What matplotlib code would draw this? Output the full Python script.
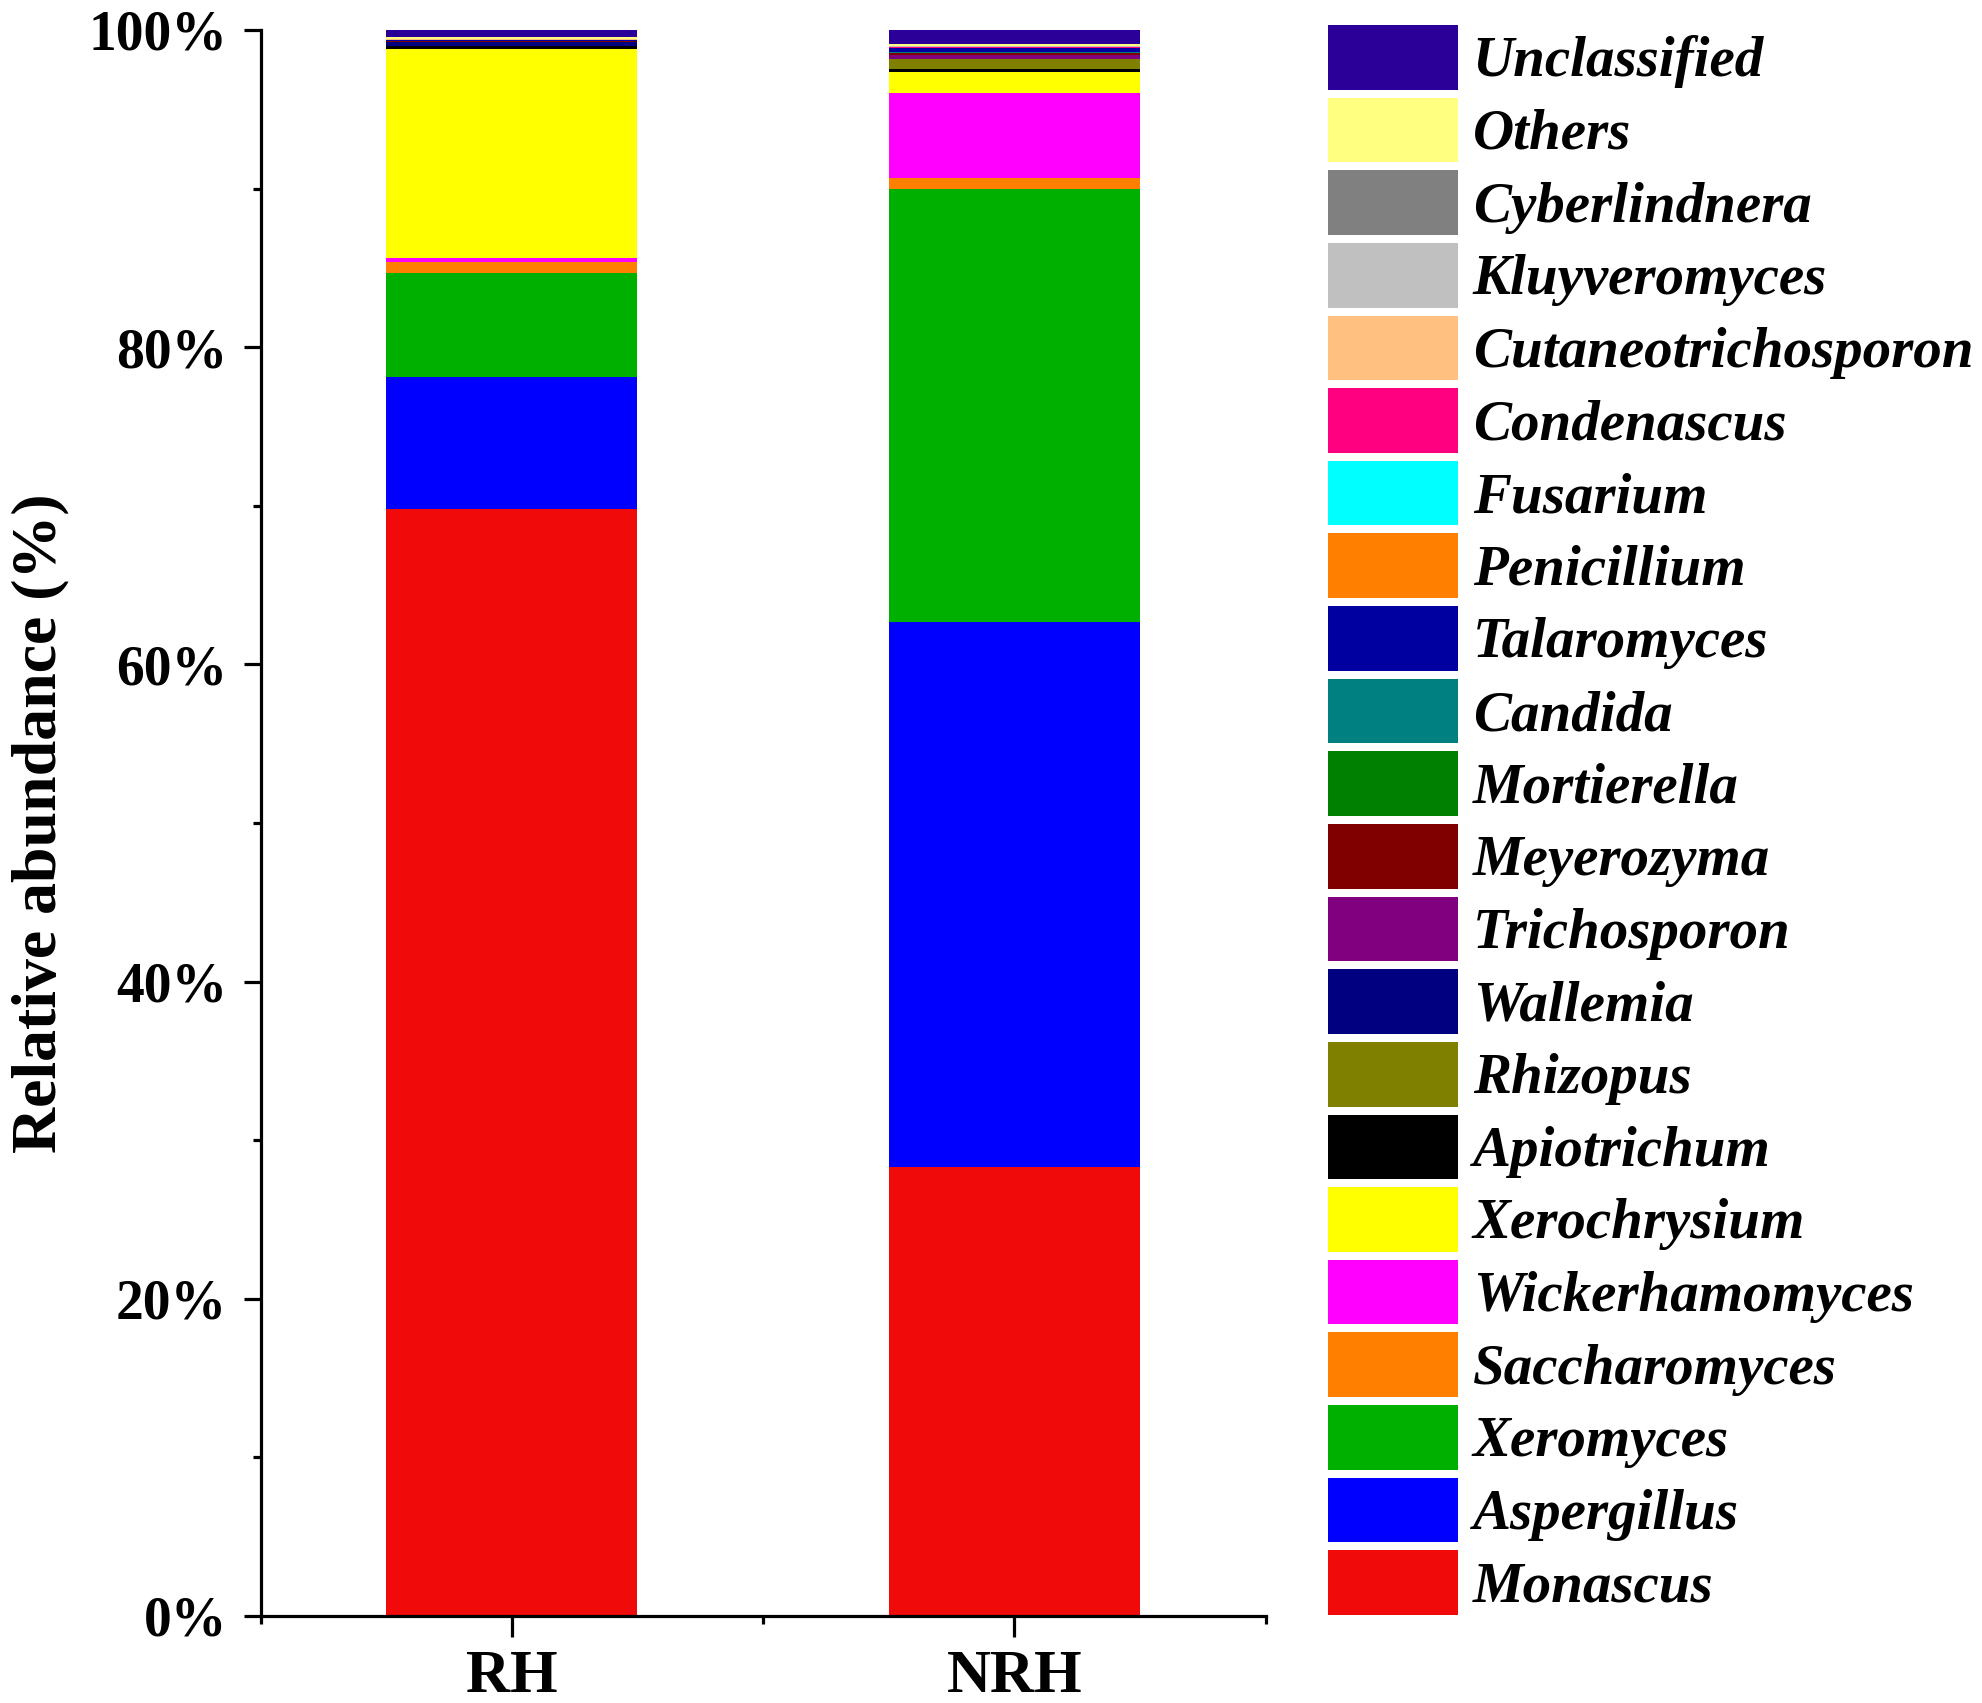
import matplotlib
matplotlib.use('Agg')
import matplotlib.pyplot as plt
from matplotlib.patches import Patch
from matplotlib.ticker import MultipleLocator, FuncFormatter

samples = ['RH', 'NRH']

# genera from bottom of the stack to the top
genera = ['Monascus', 'Aspergillus', 'Xeromyces', 'Saccharomyces', 'Wickerhamomyces',
          'Xerochrysium', 'Apiotrichum', 'Rhizopus', 'Wallemia', 'Trichosporon',
          'Meyerozyma', 'Mortierella', 'Candida', 'Talaromyces', 'Penicillium',
          'Fusarium', 'Condenascus', 'Cutaneotrichosporon', 'Kluyveromyces',
          'Cyberlindnera', 'Others', 'Unclassified']

colors = ['#F00A0A', '#0000FF', '#00B000', '#FF8000', '#FF00FF',
          '#FFFF00', '#000000', '#808000', '#000080', '#800080',
          '#800000', '#008000', '#008080', '#0000A0', '#FF8000',
          '#00FFFF', '#FF0080', '#FFC080', '#C0C0C0',
          '#808080', '#FFFF80', '#2B0099']

# relative abundance (%)
rh = [69.8, 8.3, 6.6, 0.7, 0.25,
      13.15, 0.17, 0.02, 0.25, 0.02,
      0.02, 0.02, 0.02, 0.03, 0.02,
      0.01, 0.01, 0.01, 0.03,
      0.02, 0.13, 0.42]
nrh = [28.3, 34.4, 27.3, 0.65, 5.4,
       1.3, 0.2, 0.6, 0.05, 0.2,
       0.12, 0.04, 0.04, 0.25, 0.02,
       0.02, 0.02, 0.02, 0.06,
       0.03, 0.08, 0.9]

serif = ['Liberation Serif', 'DejaVu Serif']
plt.rcParams['font.family'] = serif
plt.rcParams['font.weight'] = 'bold'

fig = plt.figure(figsize=(19.83, 17.03), dpi=100)
ax = fig.add_axes([0.1314, 0.0511, 0.5068, 0.9313])

x = [0, 1]
bottoms = [0.0, 0.0]
for name, col, a, b in zip(genera, colors, rh, nrh):
    ax.bar(x, [a, b], width=0.5, bottom=bottoms, color=col, linewidth=0, label=name)
    bottoms = [bottoms[0] + a, bottoms[1] + b]

ax.set_xlim(-0.5, 1.5)
ax.set_ylim(0, 100)
ax.spines['top'].set_visible(False)
ax.spines['right'].set_visible(False)
for s in ['left', 'bottom']:
    ax.spines[s].set_linewidth(2.3)

ax.set_xticks(x)
ax.set_xticklabels(samples)
ax.xaxis.set_minor_locator(MultipleLocator(0.5))
ax.yaxis.set_major_locator(MultipleLocator(20))
ax.yaxis.set_minor_locator(MultipleLocator(10))
ax.yaxis.set_major_formatter(FuncFormatter(lambda v, p: f'{int(v)}%'))

ax.tick_params(axis='both', which='major', length=12, width=2.3, direction='out')
ax.tick_params(axis='both', which='minor', length=6, width=2.3, direction='out')
ax.tick_params(axis='y', which='major', labelsize=40, pad=12)
ax.tick_params(axis='x', which='major', labelsize=44, pad=9, length=15)
for lab in ax.get_xticklabels() + ax.get_yticklabels():
    lab.set_fontweight('bold')

ax.set_ylabel('Relative abundance (%)', fontsize=46, fontweight='bold')
ax.yaxis.set_label_coords(-0.19, 0.5)

handles = [Patch(facecolor=c, edgecolor='none', label=g) for g, c in zip(genera, colors)]
fig.legend(handles[::-1], genera[::-1], loc='upper left', bbox_to_anchor=(0.6697, 0.9853),
           frameon=False, borderpad=0, borderaxespad=0,
           handlelength=2.28, handleheight=1.37, labelspacing=0.14, handletextpad=0.26,
           prop={'family': serif, 'weight': 'bold', 'style': 'italic', 'size': 41})

fig.savefig('out.png', dpi=100)
